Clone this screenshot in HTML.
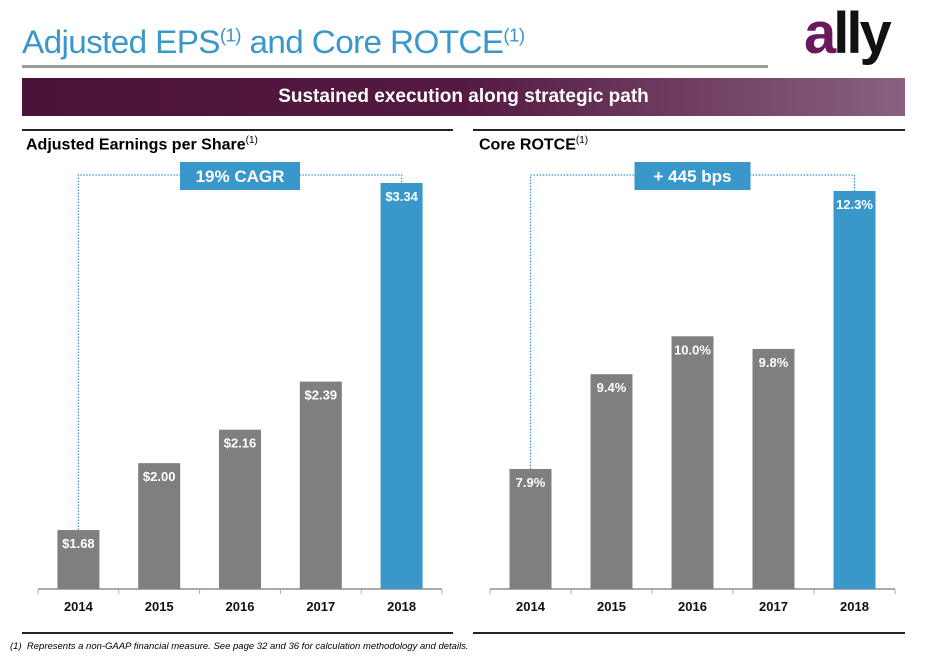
<!DOCTYPE html>
<html><head><meta charset="utf-8"><style>
body{margin:0;width:926px;height:657px;background:#fff;font-family:"Liberation Sans",Arial,sans-serif;position:relative;overflow:hidden}
.a{position:absolute}
</style></head><body>
<div class="a" style="left:22px;top:24px;font-size:32px;color:#3a97c9;letter-spacing:-0.6px;transform:scaleX(1.04);transform-origin:left">Adjusted EPS<sup style="font-size:18px">(1)</sup> and Core ROTCE<sup style="font-size:18px">(1)</sup></div>
<div class="a" style="left:22px;top:65px;width:746px;height:3px;background:#9a9a9a"></div>
<div class="a" style="left:804px;top:0px;font-size:58px;font-weight:bold;letter-spacing:-3px;color:#111"><span style="color:#6a1a5c">a</span>lly</div>
<div class="a" style="left:22px;top:78px;width:883px;height:38px;background:linear-gradient(90deg,#4a1238 0%,#551a42 50%,#8a6080 100%);color:#fff;font-weight:bold;font-size:19px;text-align:center;line-height:38px">Sustained execution along strategic path</div>
<div class="a" style="left:22px;top:129px;width:431px;height:2px;background:#222"></div>
<div class="a" style="left:473px;top:129px;width:432px;height:2px;background:#222"></div>
<div class="a" style="left:22px;top:632px;width:431px;height:2px;background:#222"></div>
<div class="a" style="left:473px;top:632px;width:432px;height:2px;background:#222"></div>
<div class="a" style="left:26px;top:135px;font-size:16px;font-weight:bold">Adjusted Earnings per Share<sup style="font-size:10px;font-weight:normal">(1)</sup></div>
<div class="a" style="left:479px;top:135px;font-size:16px;font-weight:bold">Core ROTCE<sup style="font-size:10px;font-weight:normal">(1)</sup></div>
<div class="a" style="left:10px;top:641px;font-size:9.5px;font-style:italic">(1)&nbsp; Represents a non-GAAP financial measure. See page 32 and 36 for calculation methodology and details.</div>
<svg class="a" style="left:0;top:0" width="926" height="657" id="svg"></svg>
<script>
const categories=["2014","2015","2016","2017","2018"];
const epsValues=[1.68,2.00,2.16,2.39,3.34];
const epsLabels=["$1.68","$2.00","$2.16","$2.39","$3.34"];
const rotceValues=[7.9,9.4,10.0,9.8,12.3];
const rotceLabels=["7.9%","9.4%","10.0%","9.8%","12.3%"];
const svg=document.getElementById('svg');
const NS='http://www.w3.org/2000/svg';
function mk(t,a){const e=document.createElementNS(NS,t);for(const k in a)e.setAttribute(k,a[k]);svg.appendChild(e);return e;}
function chart(prefix,x0,x1,vals,labels,vmin,vmax,ymax,badge,bw){
  const base=589;
  const y=v=>base-(v-vmin)/(vmax-vmin)*(base-ymax);
  const step=(x1-x0)/vals.length;
  const cx=i=>x0+step*(i+0.5);
  const ax=mk('line',{x1:x0,x2:x1,y1:base,y2:base,stroke:'#aaa','stroke-width':2});
  
  
  for(let i=0;i<=vals.length;i++){const t=mk('line',{x1:x0+step*i,x2:x0+step*i,y1:base,y2:base+5,stroke:'#aaa','stroke-width':1});
    
    }
  const last=vals.length-1;
  const p=mk('polyline',{points:`${cx(0)},${y(vals[0])} ${cx(0)},175 ${cx(last)},175 ${cx(last)},${y(vals[last])}`,fill:'none',stroke:'#3a97c9','stroke-width':1.2,'stroke-dasharray':'1.5,1.5'});
  
  
  vals.forEach((v,i)=>{
    const r=mk('rect',{x:cx(i)-21,y:y(v),width:42,height:base-y(v),fill:i==last?'#3a97c9':'#7f7f7f'});
    
    
    const t=mk('text',{x:cx(i),y:y(v)+18,'text-anchor':'middle',fill:'#fff','font-size':13,'font-weight':'bold','font-family':'Liberation Sans, sans-serif'});
    t.textContent=labels[i];
    
    
    const c=mk('text',{x:cx(i),y:base+22,'text-anchor':'middle',fill:'#111','font-size':13,'font-weight':'bold','font-family':'Liberation Sans, sans-serif'});
    c.textContent=categories[i];
    
    
  });
  const bx=(cx(0)+cx(last))/2;
  const b=mk('rect',{x:bx-bw/2,y:162,width:bw,height:28,fill:'#3a97c9'});
  
  
  const bt=mk('text',{x:bx,y:182,'text-anchor':'middle',fill:'#fff','font-size':17,'font-weight':'bold','font-family':'Liberation Sans, sans-serif'});
  bt.textContent=badge;
  
  
}
chart('eps',38,442,epsValues,epsLabels,1.398,3.34,183,'19% CAGR',120);
chart('rotce',490,895,rotceValues,rotceLabels,6.0,12.3,191,'+ 445 bps',116);
</script>
</body></html>
